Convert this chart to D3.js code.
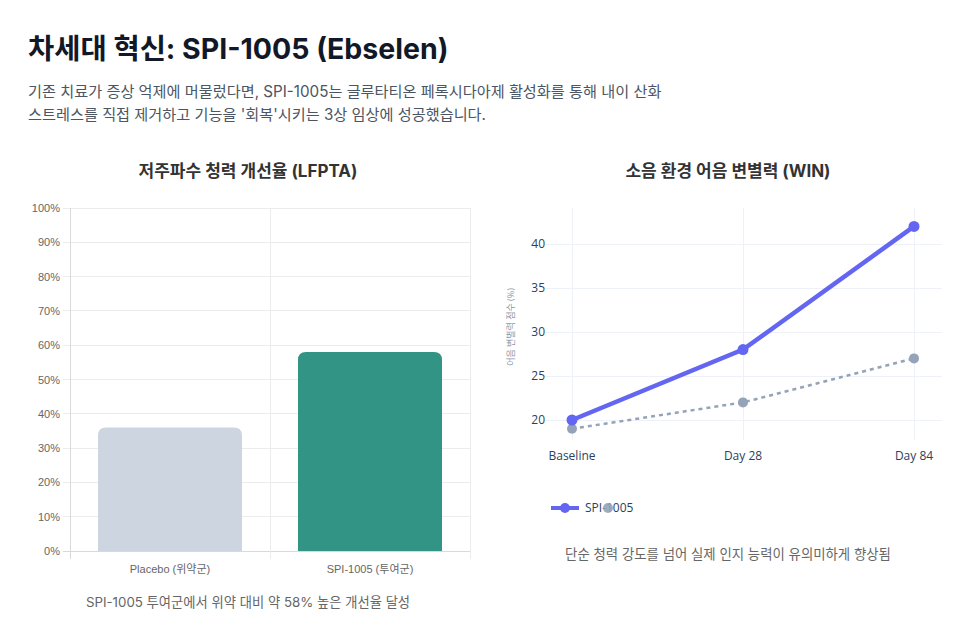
<!DOCTYPE html>
<html><head><meta charset="utf-8">
<script src="https://cdn.jsdelivr.net/npm/d3@7/dist/d3.min.js"></script>
<style>
html,body{margin:0;padding:0;background:#fff;}
svg{display:block;}
</style></head>
<body>
<svg id="c" width="975" height="636"></svg>
<script>
const barCategories = ["Placebo (위약군)", "SPI-1005 (투여군)"];
const barValues = [36, 58];
const barColors = ["#cdd5e1", "#319484"];
const barTicks = [0,10,20,30,40,50,60,70,80,90,100];

const lineCategories = ["Baseline", "Day 28", "Day 84"];
const spiValues = [20, 28, 42];
const placeboValues = [19, 22, 27];
const lineTicks = [20,25,30,35,40];
const seriesNames = ["SPI-1005", "Placebo"];

const svg = d3.select("#c");
const KR = "Inter, 'Noto Sans CJK KR', sans-serif";
const ARIAL = "'Liberation Sans', 'Noto Sans CJK KR', sans-serif";
const OPEN = "'Open Sans', 'Noto Sans CJK KR', sans-serif";

// Header
svg.append("text").attr("x",28).attr("y",59).attr("font-family",KR).attr("font-weight",700)
  .attr("font-size",28.5).attr("fill","#111827").text("차세대 혁신: SPI-1005 (Ebselen)");
svg.append("text").attr("x",28).attr("y",97).attr("font-family",KR).attr("font-size",15.2)
  .attr("fill","#4b5563").text("기존 치료가 증상 억제에 머물렀다면, SPI-1005는 글루타티온 페록시다아제 활성화를 통해 내이 산화");
svg.append("text").attr("x",28).attr("y",120).attr("font-family",KR).attr("font-size",15.2)
  .attr("fill","#4b5563").text("스트레스를 직접 제거하고 기능을 '회복'시키는 3상 임상에 성공했습니다.");

// ---- Left bar chart ----
svg.append("text").attr("x",248).attr("y",177).attr("text-anchor","middle").attr("font-family",KR)
  .attr("font-weight",700).attr("font-size",17).attr("fill","#333").text("저주파수 청력 개선율 (LFPTA)");

const L = {left:70, right:470, top:208, bottom:551};
const xb = d3.scaleBand().domain(barCategories).range([L.left, L.right]).paddingInner(0).paddingOuter(0);
const yb = d3.scaleLinear().domain([0,100]).range([L.bottom, L.top]);
const gL = svg.append("g");
gL.selectAll(".hg").data(barTicks).join("line")
  .attr("x1",L.left-7).attr("x2",L.right).attr("y1",d=>yb(d)).attr("y2",d=>yb(d))
  .attr("stroke", d=> d===0 ? "#d9d9d9" : "#ececec").attr("stroke-width",1).attr("shape-rendering","crispEdges");
const vlines = [L.left, xb(barCategories[1]), L.right];
gL.selectAll(".vg").data(vlines).join("line")
  .attr("x1",d=>d).attr("x2",d=>d).attr("y1",L.top).attr("y2",L.bottom+8)
  .attr("stroke",(d,i)=> i===0 ? "#d9d9d9" : "#ececec").attr("stroke-width",1).attr("shape-rendering","crispEdges");
gL.selectAll(".yt").data(barTicks).join("text")
  .attr("x",L.left-10).attr("y",d=>yb(d)+4).attr("text-anchor","end").attr("font-family",ARIAL)
  .attr("font-size",11).attr("fill","#666").text(d=>d+"%");
const bw = xb.bandwidth()*0.72;
function topRounded(x,y,w,h,r){
  r = Math.min(r,w/2,h);
  return `M${x},${y+h}V${y+r}Q${x},${y} ${x+r},${y}H${x+w-r}Q${x+w},${y} ${x+w},${y+r}V${y+h}Z`;
}
gL.selectAll(".bar").data(barCategories).join("path")
  .attr("d",(d,i)=>{const x=xb(d)+(xb.bandwidth()-bw)/2; const y=yb(barValues[i]); return topRounded(x,y,bw,L.bottom-y,8);})
  .attr("fill",(d,i)=>barColors[i]);
gL.selectAll(".xt").data(barCategories).join("text")
  .attr("x",d=>xb(d)+xb.bandwidth()/2).attr("y",573).attr("text-anchor","middle").attr("font-family",ARIAL)
  .attr("font-size",11).attr("fill","#666").text(d=>d);
svg.append("text").attr("x",248).attr("y",607).attr("text-anchor","middle").attr("font-family",KR)
  .attr("font-size",13.3).attr("fill","#666").text("SPI-1005 투여군에서 위약 대비 약 58% 높은 개선율 달성");

// ---- Right line chart ----
svg.append("text").attr("x",728).attr("y",177).attr("text-anchor","middle").attr("font-family",KR)
  .attr("font-weight",700).attr("font-size",17).attr("fill","#333").text("소음 환경 어음 변별력 (WIN)");

const R = {left:545, right:942, top:208, bottom:440};
const xl = d3.scalePoint().domain(lineCategories).range([572, 914]);
const yl = d3.scaleLinear().domain([20,40]).range([420,244]);
const gR = svg.append("g");
gR.selectAll(".hg").data(lineTicks).join("line")
  .attr("x1",R.left).attr("x2",R.right).attr("y1",d=>yl(d)).attr("y2",d=>yl(d))
  .attr("stroke","#eef2f8").attr("stroke-width",1).attr("shape-rendering","crispEdges");
gR.selectAll(".vg").data(lineCategories).join("line")
  .attr("x1",d=>xl(d)).attr("x2",d=>xl(d)).attr("y1",R.top).attr("y2",R.bottom)
  .attr("stroke","#eef2f8").attr("stroke-width",1).attr("shape-rendering","crispEdges");
gR.selectAll(".yt").data(lineTicks).join("text")
  .attr("x",545).attr("y",d=>yl(d)+4).attr("text-anchor","end").attr("font-family",OPEN)
  .attr("font-size",12).attr("fill","#2a3f5f").text(d=>d);
gR.selectAll(".xt").data(lineCategories).join("text")
  .attr("x",d=>xl(d)).attr("y",460).attr("text-anchor","middle").attr("font-family",OPEN)
  .attr("font-size",12).attr("fill","#2a3f5f").text(d=>d);
svg.append("text").attr("transform","translate(514,327) rotate(-90)").attr("text-anchor","middle")
  .attr("font-family",OPEN).attr("font-size",9).attr("fill","#2a3f5f").attr("opacity",0.55)
  .text("어음 변별력 점수 (%)");

const line = d3.line().x((d,i)=>xl(lineCategories[i])).y(d=>yl(d));
gR.append("path").datum(placeboValues).attr("d",line).attr("fill","none")
  .attr("stroke","#94a3b8").attr("stroke-width",2.5).attr("stroke-dasharray","4,4");
gR.selectAll(".pm").data(placeboValues).join("circle")
  .attr("cx",(d,i)=>xl(lineCategories[i])).attr("cy",d=>yl(d)).attr("r",5).attr("fill","#94a3b8");
gR.append("path").datum(spiValues).attr("d",line).attr("fill","none")
  .attr("stroke","#6366f1").attr("stroke-width",4.5);
gR.selectAll(".sm").data(spiValues).join("circle")
  .attr("cx",(d,i)=>xl(lineCategories[i])).attr("cy",d=>yl(d)).attr("r",5.5).attr("fill","#6366f1");

// legend (overlapping as in reference)
const lg = svg.append("g");
lg.append("clipPath").attr("id","lgclip").append("rect").attr("x",580).attr("y",495).attr("width",55).attr("height",25);
lg.append("line").attr("x1",551).attr("x2",579).attr("y1",508).attr("y2",508).attr("stroke","#6366f1").attr("stroke-width",4);
lg.append("circle").attr("cx",565).attr("cy",508).attr("r",5).attr("fill","#6366f1");
lg.append("text").attr("x",585).attr("y",512).attr("font-family",OPEN).attr("font-size",12)
  .attr("fill","#2a3f5f").attr("clip-path","url(#lgclip)").text(seriesNames[0]);
lg.append("circle").attr("cx",608).attr("cy",508).attr("r",5).attr("fill","#94a3b8").attr("opacity",0.9);

svg.append("text").attr("x",728).attr("y",559).attr("text-anchor","middle").attr("font-family",KR)
  .attr("font-size",13.4).attr("fill","#666").text("단순 청력 강도를 넘어 실제 인지 능력이 유의미하게 향상됨");
</script>
</body></html>
